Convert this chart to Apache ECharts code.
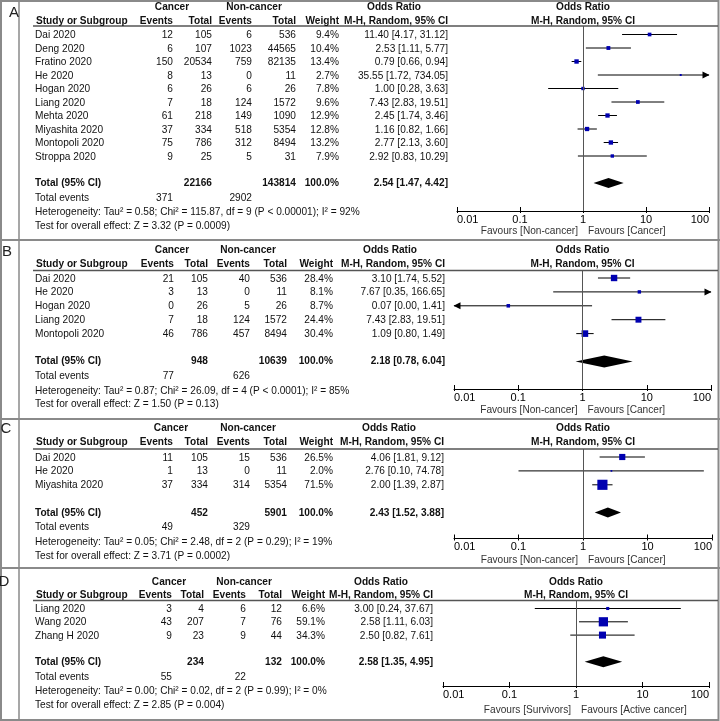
<!DOCTYPE html>
<html><head><meta charset="utf-8">
<script src="https://cdn.jsdelivr.net/npm/echarts@6/dist/echarts.min.js"></script>
<style>html,body{margin:0;padding:0;background:#fff}#c{width:720px;height:721px}</style>
</head><body><div id="c"></div>
<script>
// ---------------- DATA ----------------
const tickLabels = ['0.01', '0.1', '1', '10', '100'];
const tableHeaders = ['Cancer', 'Non-cancer', 'Odds Ratio', 'Study or Subgroup', 'Events', 'Total', 'Events', 'Total', 'Weight', 'M-H, Random, 95% CI'];

// Panel A
const studiesA = ['Dai 2020', 'Deng 2020', 'Fratino 2020', 'He 2020', 'Hogan 2020', 'Liang 2020', 'Mehta 2020', 'Miyashita 2020', 'Montopoli 2020', 'Stroppa 2020'];
const cancerEventsA = [12, 6, 150, 8, 6, 7, 61, 37, 75, 9];
const cancerTotalA = [105, 107, 20534, 13, 26, 18, 218, 334, 786, 25];
const nonEventsA = [6, 1023, 759, 0, 6, 124, 149, 518, 312, 5];
const nonTotalA = [536, 44565, 82135, 11, 26, 1572, 1090, 5354, 8494, 31];
const weightA = [9.4, 10.4, 13.4, 2.7, 7.8, 9.6, 12.9, 12.8, 13.2, 7.9];
const orA = [11.40, 2.53, 0.79, 35.55, 1.00, 7.43, 2.45, 1.16, 2.77, 2.92];
const loA = [4.17, 1.11, 0.66, 1.72, 0.28, 2.83, 1.74, 0.82, 2.13, 0.83];
const hiA = [31.12, 5.77, 0.94, 734.05, 3.63, 19.51, 3.46, 1.66, 3.60, 10.29];
const totalA = [22166, 143814, 2.54, 1.47, 4.42];
const totalEventsA = [371, 2902];
const hetA = 'Heterogeneity: Tau\u00b2 = 0.58; Chi\u00b2 = 115.87, df = 9 (P < 0.00001); I\u00b2 = 92%';
const testA = 'Test for overall effect: Z = 3.32 (P = 0.0009)';
const favoursA = ['Favours [Non-cancer]', 'Favours [Cancer]'];

// Panel B
const studiesB = ['Dai 2020', 'He 2020', 'Hogan 2020', 'Liang 2020', 'Montopoli 2020'];
const cancerEventsB = [21, 3, 0, 7, 46];
const cancerTotalB = [105, 13, 26, 18, 786];
const nonEventsB = [40, 0, 5, 124, 457];
const nonTotalB = [536, 11, 26, 1572, 8494];
const weightB = [28.4, 8.1, 8.7, 24.4, 30.4];
const orB = [3.10, 7.67, 0.07, 7.43, 1.09];
const loB = [1.74, 0.35, 0.00, 2.83, 0.80];
const hiB = [5.52, 166.65, 1.41, 19.51, 1.49];
const totalB = [948, 10639, 2.18, 0.78, 6.04];
const totalEventsB = [77, 626];
const hetB = 'Heterogeneity: Tau\u00b2 = 0.87; Chi\u00b2 = 26.09, df = 4 (P < 0.0001); I\u00b2 = 85%';
const testB = 'Test for overall effect: Z = 1.50 (P = 0.13)';
const favoursB = ['Favours [Non-cancer]', 'Favours [Cancer]'];

// Panel C
const studiesC = ['Dai 2020', 'He 2020', 'Miyashita 2020'];
const cancerEventsC = [11, 1, 37];
const cancerTotalC = [105, 13, 334];
const nonEventsC = [15, 0, 314];
const nonTotalC = [536, 11, 5354];
const weightC = [26.5, 2.0, 71.5];
const orC = [4.06, 2.76, 2.00];
const loC = [1.81, 0.10, 1.39];
const hiC = [9.12, 74.78, 2.87];
const totalC = [452, 5901, 2.43, 1.52, 3.88];
const totalEventsC = [49, 329];
const hetC = 'Heterogeneity: Tau\u00b2 = 0.05; Chi\u00b2 = 2.48, df = 2 (P = 0.29); I\u00b2 = 19%';
const testC = 'Test for overall effect: Z = 3.71 (P = 0.0002)';
const favoursC = ['Favours [Non-cancer]', 'Favours [Cancer]'];

// Panel D
const studiesD = ['Liang 2020', 'Wang 2020', 'Zhang H 2020'];
const cancerEventsD = [3, 43, 9];
const cancerTotalD = [4, 207, 23];
const nonEventsD = [6, 7, 9];
const nonTotalD = [12, 76, 44];
const weightD = [6.6, 59.1, 34.3];
const orD = [3.00, 2.58, 2.50];
const loD = [0.24, 1.11, 0.82];
const hiD = [37.67, 6.03, 7.61];
const totalD = [234, 132, 2.58, 1.35, 4.95];
const totalEventsD = [55, 22];
const hetD = 'Heterogeneity: Tau\u00b2 = 0.00; Chi\u00b2 = 0.02, df = 2 (P = 0.99); I\u00b2 = 0%';
const testD = 'Test for overall effect: Z = 2.85 (P = 0.004)';
const favoursD = ['Favours [Survivors]', 'Favours [Active cancer]'];

// ---------------- LAYOUT (positions / styles) ----------------
const layoutA = {letter: 'A', lx: 14, ly: 13, h1: 7, h2: 21, line: 26, y0: 34.5, step: 13.5, axisY: 211, left: 457, right: 709, cols: [173, 212, 252, 296, 339, 448], grp: [172, 254, 394], dh: 5, favY: 231};
const layoutB = {letter: 'B', lx: 7, ly: 252, h1: 250, h2: 264, line: 270.5, y0: 278, step: 13.9, axisY: 389, left: 454, right: 711, cols: [174, 208, 250, 287, 333, 445], grp: [172, 248, 390], dh: 6, favY: 410};
const layoutC = {letter: 'C', lx: 6, ly: 429, h1: 428, h2: 442, line: 449, y0: 457, step: 13.9, axisY: 538.5, left: 454, right: 712, cols: [173, 208, 250, 287, 333, 444], grp: [171, 248, 389], dh: 5, favY: 560};
const layoutD = {letter: 'D', lx: 4, ly: 582, h1: 582, h2: 595, line: 600.5, y0: 608.5, step: 13.3, axisY: 686, left: 443, right: 709, cols: [172, 204, 246, 282, 325, 433], grp: [169, 244, 381], dh: 5.5, favY: 710};

const panels = [
  {studies: studiesA, cE: cancerEventsA, cT: cancerTotalA, nE: nonEventsA, nT: nonTotalA, w: weightA, or: orA, lo: loA, hi: hiA, tot: totalA, tev: totalEventsA, het: hetA, test: testA, fav: favoursA, L: layoutA},
  {studies: studiesB, cE: cancerEventsB, cT: cancerTotalB, nE: nonEventsB, nT: nonTotalB, w: weightB, or: orB, lo: loB, hi: hiB, tot: totalB, tev: totalEventsB, het: hetB, test: testB, fav: favoursB, L: layoutB},
  {studies: studiesC, cE: cancerEventsC, cT: cancerTotalC, nE: nonEventsC, nT: nonTotalC, w: weightC, or: orC, lo: loC, hi: hiC, tot: totalC, tev: totalEventsC, het: hetC, test: testC, fav: favoursC, L: layoutC},
  {studies: studiesD, cE: cancerEventsD, cT: cancerTotalD, nE: nonEventsD, nT: nonTotalD, w: weightD, or: orD, lo: loD, hi: hiD, tot: totalD, tev: totalEventsD, het: hetD, test: testD, fav: favoursD, L: layoutD}
];

const FONT = '"Liberation Sans", Arial, sans-serif';
const SX = 0.92;
const TXT = '#111';
const BORDER = '#8a8a8a';
const SQUARE = '#0000b0';
const AX_MIN = 0.01, AX_MAX = 100;

function T(x, y, text, o) {
  o = o || {};
  const align = o.align || 'left';
  return {
    type: 'text', x: x, y: y, scaleX: o.sx || SX, silent: true, z: 10,
    style: {
      text: text, x: 0, y: 0, fill: o.color || TXT,
      font: (o.bold ? 'bold ' : '') + (o.size || 11) + 'px ' + FONT,
      textAlign: align, align: align,
      textVerticalAlign: 'middle', verticalAlign: 'middle'
    }
  };
}
function Ln(x1, y1, x2, y2, color, w) {
  return {type: 'line', silent: true, z: 5, shape: {x1: x1, y1: y1, x2: x2, y2: y2}, style: {stroke: color, lineWidth: w}};
}
const f2 = v => v.toFixed(2);
const orText = (o, l, h) => f2(o) + ' [' + f2(l) + ', ' + f2(h) + ']';

// ---------------- BUILD ----------------
const grids = [], xAxes = [], yAxes = [], series = [], elements = [];

// frame
elements.push(Ln(1, 1, 719, 1, BORDER, 2));
elements.push(Ln(1, 720, 719, 720, BORDER, 2));
elements.push(Ln(1, 0, 1, 721, BORDER, 2));
elements.push(Ln(718.5, 0, 718.5, 721, BORDER, 2));
elements.push(Ln(19, 0, 19, 721, BORDER, 1.5));
[240, 419, 568].forEach(y => elements.push(Ln(0, y, 720, y, BORDER, 2)));

panels.forEach((p, k) => {
  const L = p.L;
  const n = p.studies.length;
  const rowY = i => L.y0 + i * L.step;
  const totalRow = n + 1;
  const totY = rowY(totalRow);
  const x1 = L.left + (L.right - L.left) / 2;

  grids.push({left: L.left, top: L.line, width: L.right - L.left, height: L.axisY - L.line, containLabel: false});
  const baseX = {
    type: 'log', logBase: 10, gridIndex: k, min: AX_MIN, max: AX_MAX, splitNumber: 4, position: 'bottom',
    splitLine: {show: false}, minorTick: {show: false}, minorSplitLine: {show: false}
  };
  xAxes.push(Object.assign({}, baseX, {
    axisLine: {show: true, onZero: false, lineStyle: {color: '#000', width: 1}},
    axisTick: {show: true, length: 2, lineStyle: {color: '#000', width: 1}},
    axisLabel: {show: true, color: '#000', fontSize: 11, fontFamily: FONT, margin: 3,
      alignMinLabel: 'left', alignMaxLabel: 'right',
      formatter: (v, i) => tickLabels[i]}
  }));
  xAxes.push(Object.assign({}, baseX, {
    axisLine: {show: false, onZero: false},
    axisTick: {show: true, inside: true, length: 4, lineStyle: {color: '#000', width: 1}},
    axisLabel: {show: false}
  }));
  yAxes.push({type: 'value', gridIndex: k, inverse: true, show: false,
    min: (L.line - L.y0) / L.step, max: (L.axisY - L.y0) / L.step});

  // CI lines
  series.push({
    type: 'custom', xAxisIndex: 2 * k, yAxisIndex: k, z: 3, silent: true,
    encode: {x: 0, y: 3},
    data: p.or.map((o, i) => [o, p.lo[i], p.hi[i], i]),
    renderItem: (params, api) => {
      const row = api.value(3), lo = api.value(1), hi = api.value(2);
      const a = api.coord([Math.max(lo, AX_MIN), row]);
      const b = api.coord([Math.min(hi, AX_MAX), row]);
      const ch = [{type: 'line', shape: {x1: a[0], y1: a[1], x2: b[0], y2: b[1]}, style: {stroke: '#000', lineWidth: 1}}];
      if (hi > AX_MAX) ch.push({type: 'polygon', shape: {points: [[b[0] + 0.5, b[1]], [b[0] - 6.5, b[1] - 3.5], [b[0] - 6.5, b[1] + 3.5]]}, style: {fill: '#000'}});
      if (lo < AX_MIN) ch.push({type: 'polygon', shape: {points: [[a[0] - 0.5, a[1]], [a[0] + 6.5, a[1] - 3.5], [a[0] + 6.5, a[1] + 3.5]]}, style: {fill: '#000'}});
      return {type: 'group', children: ch};
    }
  });
  // squares + reference line
  series.push({
    type: 'scatter', xAxisIndex: 2 * k, yAxisIndex: k, z: 4, silent: true,
    symbol: 'rect',
    symbolSize: (v, params) => 1.2 * Math.sqrt(p.w[params.dataIndex]),
    itemStyle: {color: SQUARE, opacity: 1},
    data: p.or.map((o, i) => [o, i]),
    markLine: {
      silent: true, symbol: ['none', 'none'], animation: false,
      label: {show: false},
      lineStyle: {color: '#555', width: 1, type: 'solid'},
      data: [{xAxis: 1}]
    }
  });
  // diamond
  series.push({
    type: 'custom', xAxisIndex: 2 * k, yAxisIndex: k, z: 3, silent: true,
    encode: {x: 0, y: 3},
    data: [[p.tot[2], p.tot[3], p.tot[4], totalRow]],
    renderItem: (params, api) => {
      const row = api.value(3);
      const l = api.coord([api.value(1), row]);
      const c = api.coord([api.value(0), row]);
      const r = api.coord([api.value(2), row]);
      return {type: 'polygon', shape: {points: [[l[0], l[1]], [c[0], c[1] - L.dh], [r[0], r[1]], [c[0], c[1] + L.dh]]}, style: {fill: '#000'}};
    }
  });

  // ---- table texts ----
  elements.push(T(L.lx, L.ly, L.letter, {align: 'center', size: 15, sx: 1, color: '#222'}));
  elements.push(T(L.grp[0], L.h1, tableHeaders[0], {bold: true, align: 'center'}));
  elements.push(T(L.grp[1], L.h1, tableHeaders[1], {bold: true, align: 'center'}));
  elements.push(T(L.grp[2], L.h1, tableHeaders[2], {bold: true, align: 'center'}));
  elements.push(T(36, L.h2, tableHeaders[3], {bold: true}));
  for (let c = 0; c < 6; c++) elements.push(T(L.cols[c], L.h2, tableHeaders[4 + c], {bold: true, align: 'right'}));
  elements.push(T(x1, L.h1, tableHeaders[2], {bold: true, align: 'center'}));
  elements.push(T(x1, L.h2, tableHeaders[9], {bold: true, align: 'center'}));
  elements.push(Ln(33, L.line, 718, L.line, '#555', 1.5));

  p.studies.forEach((s, i) => {
    const y = rowY(i) + 0.5;
    elements.push(T(35, y, s));
    const vals = [String(p.cE[i]), String(p.cT[i]), String(p.nE[i]), String(p.nT[i]), p.w[i].toFixed(1) + '%', orText(p.or[i], p.lo[i], p.hi[i])];
    vals.forEach((v, c) => elements.push(T(L.cols[c], y, v, {align: 'right'})));
  });
  elements.push(T(35, totY, 'Total (95% CI)', {bold: true}));
  elements.push(T(L.cols[1], totY, String(p.tot[0]), {bold: true, align: 'right'}));
  elements.push(T(L.cols[3], totY, String(p.tot[1]), {bold: true, align: 'right'}));
  elements.push(T(L.cols[4], totY, '100.0%', {bold: true, align: 'right'}));
  elements.push(T(L.cols[5], totY, orText(p.tot[2], p.tot[3], p.tot[4]), {bold: true, align: 'right'}));
  elements.push(T(35, totY + 14.8, 'Total events'));
  elements.push(T(L.cols[0], totY + 14.8, String(p.tev[0]), {align: 'right'}));
  elements.push(T(L.cols[2], totY + 14.8, String(p.tev[1]), {align: 'right'}));
  elements.push(T(35, totY + 29.3, p.het));
  elements.push(T(35, totY + 43, p.test));

  // favours labels
  elements.push(T(x1 - 5, L.favY, p.fav[0], {align: 'right', color: '#333'}));
  elements.push(T(x1 + 5, L.favY, p.fav[1], {align: 'left', color: '#333'}));
});

const chart = echarts.init(document.getElementById('c'), null, {renderer: 'canvas'});
chart.setOption({
  animation: false,
  backgroundColor: '#fff',
  grid: grids, xAxis: xAxes, yAxis: yAxes, series: series,
  graphic: {elements: elements}
});
</script>
</body></html>
